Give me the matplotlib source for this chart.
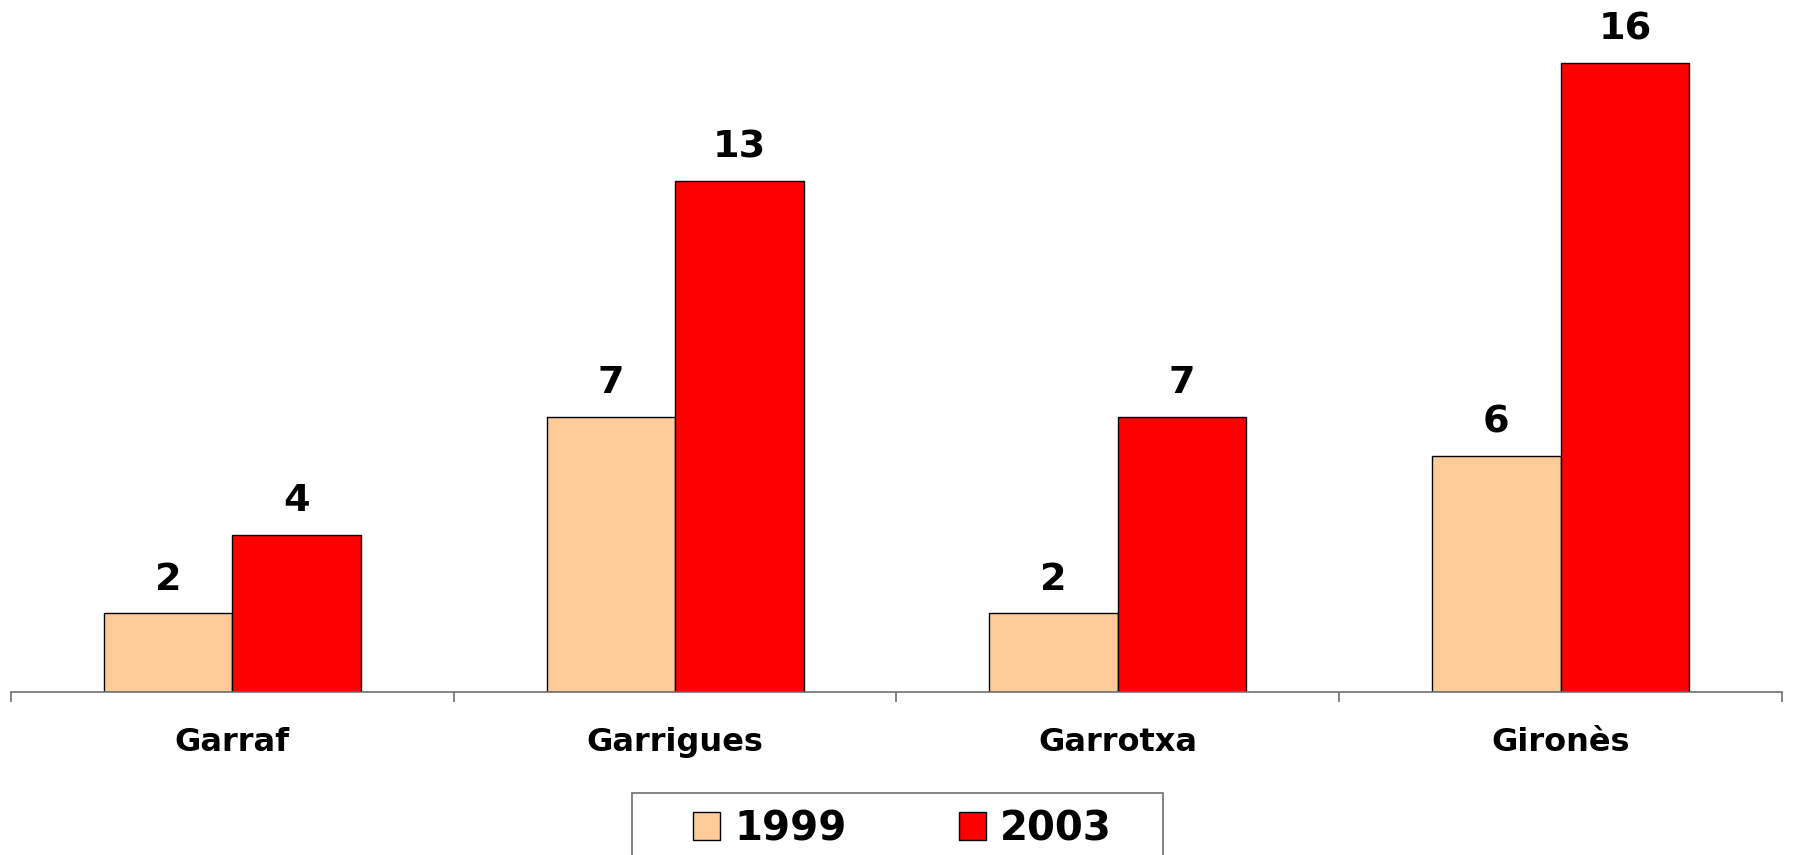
import numpy as np
import matplotlib
matplotlib.use("Agg")
from matplotlib import pyplot as plt
from matplotlib.patches import Rectangle

plt.rcParams['font.family'] = ['DejaVu Sans']

comarques = ["Garraf", "Garrigues", "Garrotxa", "Gironès"]
anys = ["1999", "2003"]
v1999 = [2, 7, 2, 6]
v2003 = [4, 13, 7, 16]
colors = ["#FFCC99", "#FF0000"]

fig = plt.figure(figsize=(17.93, 8.55), dpi=100)
ax = fig.add_axes([11/1793, 1 - 692/855, 1771/1793, 692/855])

x = np.arange(len(comarques))
w = 0.29
b1 = ax.bar(x - w/2, v1999, w, color=colors[0], edgecolor="black", linewidth=1, label=anys[0])
b2 = ax.bar(x + w/2, v2003, w, color=colors[1], edgecolor="black", linewidth=1, label=anys[1])

for bars in (b1, b2):
    ax.bar_label(bars, padding=11, fontsize=27.5, fontweight="bold")

ax.set_xlim(-0.5, len(comarques) - 0.5)
ax.set_ylim(0, 692/39.33)

for s in ["top", "right", "left"]:
    ax.spines[s].set_visible(False)
ax.spines["bottom"].set_color("#707070")
ax.spines["bottom"].set_linewidth(1.2)
ax.set_yticks([])

# ticks at the boundaries, labels in the middle
ax.set_xticks(np.arange(-0.5, len(comarques)))
ax.set_xticklabels([])
ax.tick_params(axis="x", which="major", length=7.5, width=1.2, color="#707070")
ax.set_xticks(x, minor=True)
ax.set_xticklabels(comarques, minor=True, fontsize=23, fontweight="bold")
ax.tick_params(axis="x", which="minor", length=0, pad=25)

# legend contents, frame drawn separately (cut by the bottom edge)
leg = fig.legend(loc="upper left", bbox_to_anchor=(693/1793, 1 - 809/855),
                 ncol=2, frameon=False,
                 prop={"size": 29, "weight": "bold"},
                 handlelength=0.67, handleheight=0.72, handletextpad=0.35,
                 columnspacing=2.8, borderpad=0, borderaxespad=0)
for h in leg.legend_handles:
    h.set_linewidth(1)
fig.add_artist(Rectangle((632/1793, -0.1), 531/1793, 0.1 + 62/855,
                         transform=fig.transFigure, fill=False,
                         edgecolor="#707070", linewidth=1.2))

fig.savefig("out.png", dpi=100)
